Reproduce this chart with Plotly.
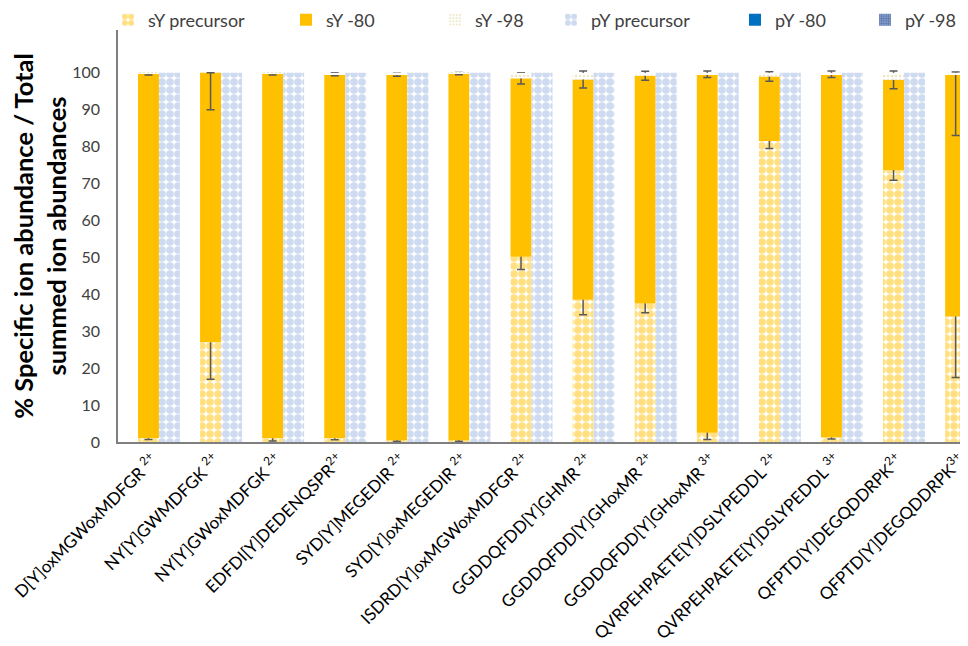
import plotly.graph_objects as go

categories = [
    "D[Y]oxMGWoxMDFGR <sup>2+</sup>",
    "NY[Y]GWMDFGK <sup>2+</sup>",
    "NY[Y]GWoxMDFGK <sup>2+</sup>",
    "EDFDI[Y]DEDENQSPR<sup>2+</sup>",
    "SYD[Y]MEGEDIR <sup>2+</sup>",
    "SYD[Y]oxMEGEDIR <sup>2+</sup>",
    "ISDRD[Y]oxMGWoxMDFGR <sup>2+</sup>",
    "GGDDQFDD[Y]GHMR <sup>2+</sup>",
    "GGDDQFDD[Y]GHoxMR <sup>2+</sup>",
    "GGDDQFDD[Y]GHoxMR <sup>3+</sup>",
    "QVRPEHPAETE[Y]DSLYPEDDL <sup>2+</sup>",
    "QVRPEHPAETE[Y]DSLYPEDDL <sup>3+</sup>",
    "QFPTD[Y]DEGQDDRPK<sup>2+</sup>",
    "QFPTD[Y]DEGQDDRPK<sup>3+</sup>",
]

sy_precursor = [1.0, 27.0, 1.0, 1.0, 0.5, 0.5, 50.2, 38.5, 37.5, 2.5, 81.5, 1.2, 73.7, 34.0]
sy_precursor_err = [0.3, 10.0, 0.7, 0.4, 0.3, 0.3, 3.5, 4.0, 2.5, 1.8, 2.0, 0.4, 2.8, 16.5]
sy_80 = [98.7, 73.0, 98.7, 98.6, 99.0, 99.3, 48.3, 59.7, 61.7, 97.1, 17.5, 98.4, 24.4, 65.5]
sy_80_err_plus = [0.3, 0.0, 0.3, 0.4, 0.4, 0.3, 1.5, 2.3, 1.2, 0.9, 1.3, 0.9, 2.4, 0.7]
sy_80_err_minus = [0.3, 10.0, 0.3, 0.4, 0.4, 0.3, 1.5, 2.3, 1.2, 0.9, 1.3, 0.9, 2.4, 16.5]
sy_98 = [0.3, 0.0, 0.3, 0.4, 0.5, 0.2, 1.5, 1.8, 0.8, 0.4, 1.0, 0.4, 1.9, 0.5]
py_precursor = [100.0] * 14
py_80 = [0.0] * 14
py_98 = [0.0] * 14

FONT = "Lato"
ORANGE = "#FFC000"
LBLUE = "#9DB6E2"

x = list(range(len(categories)))
base_s80 = [p for p in sy_precursor]
base_s98 = [p + s for p, s in zip(sy_precursor, sy_80)]
base_p80 = [p for p in py_precursor]
base_p98 = [p + q for p, q in zip(py_precursor, py_80)]
zeros = [0.0] * len(categories)

err_style = dict(color="#595959", thickness=1.5, width=4)

fig = go.Figure()
fig.add_trace(go.Bar(
    x=x, y=sy_precursor, base=zeros, name="sY precursor", offsetgroup="s",
    marker=dict(color="white", line=dict(width=0),
                pattern=dict(shape=".", fgcolor=ORANGE, bgcolor="white", size=8, solidity=0.72)),
    error_y=dict(type="data", array=sy_precursor_err, **err_style),
    legend="legend",
))
fig.add_trace(go.Bar(
    x=x, y=sy_80, base=base_s80, name="sY -80", offsetgroup="s",
    marker=dict(color=ORANGE, line=dict(width=0)),
    error_y=dict(type="data", symmetric=False, array=sy_80_err_plus,
                 arrayminus=sy_80_err_minus, **err_style),
    legend="legend2",
))
fig.add_trace(go.Bar(
    x=x, y=sy_98, base=base_s98, name="sY -98", offsetgroup="s",
    marker=dict(color="white", line=dict(width=0),
                pattern=dict(shape=".", fgcolor="#DCCF8C", bgcolor="white", size=4, solidity=0.35)),
    legend="legend3",
))
fig.add_trace(go.Bar(
    x=x, y=py_precursor, base=zeros, name="pY precursor", offsetgroup="p",
    marker=dict(color="white", line=dict(width=0),
                pattern=dict(shape=".", fgcolor=LBLUE, bgcolor="white", size=8, solidity=0.72)),
    legend="legend4",
))
fig.add_trace(go.Bar(
    x=x, y=py_80, base=base_p80, name="pY -80", offsetgroup="p",
    marker=dict(color="#0070C0", line=dict(width=0)),
    legend="legend5",
))
fig.add_trace(go.Bar(
    x=x, y=py_98, base=base_p98, name="pY -98", offsetgroup="p",
    marker=dict(color="#8FAADC", line=dict(width=0),
                pattern=dict(shape=".", fgcolor="#1F3864", bgcolor="#8FAADC", size=3, solidity=0.5)),
    legend="legend6",
))

# the page body adds an 8px offset, so the figure is 960x638
FW, FH, OFF = 960, 638, 8
text_starts = [148, 326, 475, 591, 775, 905]
leg_common = dict(orientation="h", xref="container", yref="container",
                  yanchor="middle", y=1 - 12 / FH, xanchor="left",
                  font=dict(family=FONT, size=18, color="#404040"),
                  bgcolor="rgba(0,0,0,0)", itemwidth=30, tracegroupgap=0)
legends = {}
for i, ts in enumerate(text_starts):
    key = "legend" if i == 0 else f"legend{i+1}"
    legends[key] = dict(leg_common, x=(ts - OFF - 40) / FW)

fig.update_layout(
    width=FW, height=FH,
    margin=dict(l=118 - OFF, r=0, t=30 - OFF, b=204, autoexpand=False),
    paper_bgcolor="white", plot_bgcolor="white",
    barmode="group", bargap=0.324, bargroupgap=0,
    font=dict(family=FONT, color="#000000"),
    showlegend=True,
    **legends,
)
fig.update_xaxes(
    range=[-0.66, 13.03], tickmode="array", tickvals=x, ticktext=categories,
    tickangle=-45, tickfont=dict(family=FONT, size=17, color="#000000"),
    showline=True, linecolor="#7F7F7F", linewidth=1.5, showgrid=False, zeroline=False,
    ticks="", automargin=False, ticklabeloverflow="allow", ticklabelshift=-6,
)
fig.update_yaxes(
    range=[0, 111.6], tickvals=list(range(0, 101, 10)),
    tickfont=dict(family=FONT, size=16, color="#404040"),
    showline=True, linecolor="#7F7F7F", linewidth=1.5, showgrid=False, zeroline=False,
    ticks="", ticklabelstandoff=13, automargin=False,
    title=dict(text="<b>% Specific ion abundance / Total<br>summed ion abundances</b>",
               font=dict(family=FONT, size=25.5, color="#000000"), standoff=4),
)

fig.write_html("out.html")
